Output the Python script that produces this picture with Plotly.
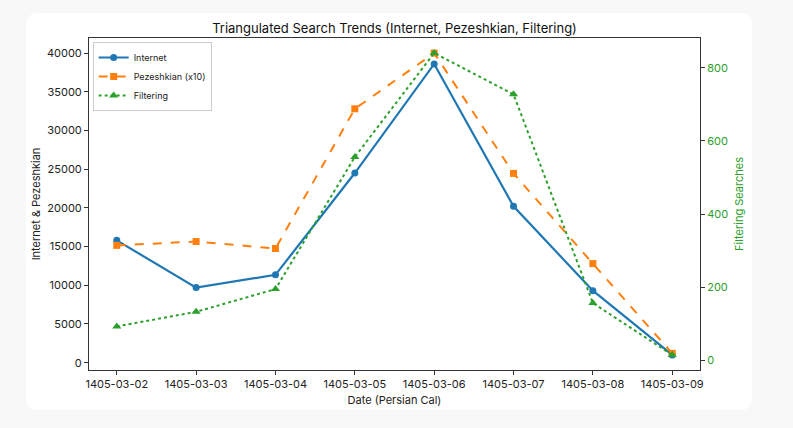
import plotly.graph_objects as go

dates = ["1405-03-02", "1405-03-03", "1405-03-04", "1405-03-05",
         "1405-03-06", "1405-03-07", "1405-03-08", "1405-03-09"]
internet = [15800, 9700, 11350, 24500, 38600, 20200, 9300, 1000]
pezeshkian_x10 = [15150, 15650, 14750, 32800, 40000, 24450, 12800, 1200]
filtering = [93, 133, 195, 556, 840, 727, 157, 15]

xi = list(range(len(dates)))
FONT = "Inter, Open Sans, sans-serif"
GREEN = "#2ca02c"

fig = go.Figure()
fig.add_trace(go.Scatter(x=xi, y=internet, name="Internet", mode="lines+markers",
                         line=dict(color="#1f77b4", width=2.2),
                         marker=dict(symbol="circle", size=7, color="#1f77b4")))
fig.add_trace(go.Scatter(x=xi, y=pezeshkian_x10, name="Pezeshkian (x10)", mode="lines+markers",
                         line=dict(color="#ff7f0e", width=2, dash="dash"),
                         marker=dict(symbol="square", size=7, color="#ff7f0e")))
fig.add_trace(go.Scatter(x=xi, y=filtering, name="Filtering", mode="lines+markers", yaxis="y2",
                         line=dict(color=GREEN, width=2, dash="dot"),
                         marker=dict(symbol="triangle-up", size=8, color=GREEN)))

axis_common = dict(showline=True, linecolor="#333", linewidth=1, ticks="outside",
                   ticklen=4, tickcolor="#333", showgrid=False, zeroline=False)

# rounded white card (pixel coords converted to paper coords)
L, R, T, B = 89, 700, 38, 370
W, H = R - L, B - T
def px(x): return (x - L) / W
def py(y): return (B - y) / H
cx0, cx1, cy0, cy1, r = 26, 752, 13, 410, 12
path = (f"M {px(cx0 + r)} {py(cy0)} L {px(cx1 - r)} {py(cy0)} "
        f"Q {px(cx1)} {py(cy0)} {px(cx1)} {py(cy0 + r)} "
        f"L {px(cx1)} {py(cy1 - r)} Q {px(cx1)} {py(cy1)} {px(cx1 - r)} {py(cy1)} "
        f"L {px(cx0 + r)} {py(cy1)} Q {px(cx0)} {py(cy1)} {px(cx0)} {py(cy1 - r)} "
        f"L {px(cx0)} {py(cy0 + r)} Q {px(cx0)} {py(cy0)} {px(cx0 + r)} {py(cy0)} Z")

fig.update_layout(
    width=793, height=428,
    margin=dict(l=L, r=793 - R, t=T, b=428 - B),
    paper_bgcolor="#f8f8f8", plot_bgcolor="white",
    font=dict(family=FONT, size=11, color="#222"),
    title=dict(text="Triangulated Search Trends (Internet, Pezeshkian, Filtering)",
               x=0.5, xref="paper", y=1, yref="paper", yanchor="bottom", pad=dict(b=5),
               font=dict(size=13, family=FONT, color="#111")),
    xaxis=dict(**axis_common, tickmode="array", tickvals=xi, ticktext=dates,
               range=[-0.35, 7.35], mirror=True,
               title=dict(text="Date (Persian Cal)", standoff=6, font=dict(size=11))),
    yaxis=dict(**axis_common, range=[-950, 41950], tickmode="linear", tick0=0, dtick=5000,
               tickformat="d",
               title=dict(text="Internet & Pezeshkian", standoff=4, font=dict(size=11))),
    yaxis2=dict(**axis_common, overlaying="y", side="right", range=[-26, 881],
                tickmode="linear", tick0=0, dtick=200,
                tickfont=dict(color=GREEN),
                title=dict(text="Filtering Searches", standoff=8, font=dict(size=11, color=GREEN))),
    legend=dict(x=0.006, y=0.988, xanchor="left", yanchor="top",
                bgcolor="rgba(255,255,255,0.9)", bordercolor="#ccc", borderwidth=1,
                font=dict(size=9), tracegroupgap=0, itemwidth=30),
    showlegend=True,
    shapes=[dict(type="path", xref="paper", yref="paper", layer="below",
                 path=path, fillcolor="white", line=dict(width=0))],
)

fig.write_html("out.html")
